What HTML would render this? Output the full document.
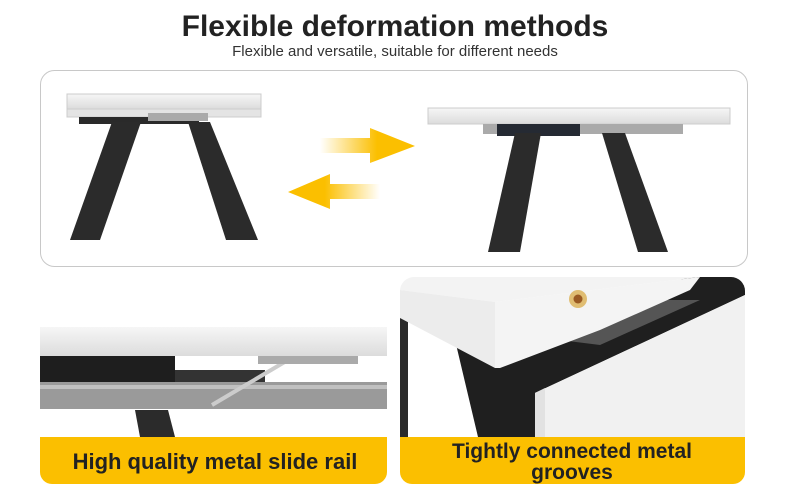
<!DOCTYPE html>
<html><head><meta charset="utf-8"><style>
body{margin:0;width:800px;height:495px;background:#fff;overflow:hidden;font-family:"Liberation Sans",sans-serif}
</style></head><body>
<svg width="800" height="495" viewBox="0 0 800 495" xmlns="http://www.w3.org/2000/svg">
<defs>
<linearGradient id="ar" x1="0" x2="1"><stop offset="0" stop-color="#fbbf00" stop-opacity="0"/><stop offset="0.6" stop-color="#fbbf00"/></linearGradient>
<linearGradient id="al" x1="1" x2="0"><stop offset="0" stop-color="#fbbf00" stop-opacity="0"/><stop offset="0.6" stop-color="#fbbf00"/></linearGradient>
<linearGradient id="mar" x1="0" y1="0" x2="0" y2="1"><stop offset="0" stop-color="#f6f6f6"/><stop offset="1" stop-color="#dcdcdc"/></linearGradient>
</defs>
<text x="395" y="36" text-anchor="middle" font-size="30" font-weight="bold" fill="#222">Flexible deformation methods</text>
<text x="395" y="56" text-anchor="middle" font-size="15" fill="#333">Flexible and versatile, suitable for different needs</text>
<rect x="40.5" y="70.5" width="707" height="196" rx="14" fill="#fff" stroke="#c8c8c8"/>
<!-- left table -->
<rect x="67" y="94" width="194" height="15" fill="url(#mar)" stroke="#ccc"/>
<rect x="67" y="109" width="194" height="8" fill="#e4e4e4" stroke="#ccc"/>
<rect x="79" y="117" width="120" height="7" fill="#2a2a2a"/>
<rect x="148" y="113" width="60" height="8" fill="#aaa"/>
<polygon points="112,122 141,122 100,240 70,240" fill="#2b2b2b"/>
<polygon points="188,122 210,122 258,240 226,240" fill="#2b2b2b"/>
<!-- arrows -->
<polygon points="320,138 370,138 370,128 415,146 370,163 370,153 320,153" fill="url(#ar)"/>
<polygon points="380,184 330,184 330,174 288,192 330,209 330,199 380,199" fill="url(#al)"/>
<!-- right table -->
<rect x="428" y="108" width="302" height="16" fill="url(#mar)" stroke="#ccc"/>
<rect x="483" y="124" width="200" height="10" fill="#aaa"/>
<rect x="497" y="124" width="83" height="12" fill="#252a33"/>
<polygon points="515,133 541,133 520,252 488,252" fill="#2b2b2b"/>
<polygon points="602,133 625,133 668,252 638,252" fill="#2b2b2b"/>
<!-- bottom left panel -->
<rect x="40" y="277" width="347" height="207" rx="14" fill="#fff"/>
<rect x="40" y="327" width="347" height="29" fill="url(#mar)"/>
<rect x="40" y="356" width="135" height="30" fill="#1e1e1e"/>
<rect x="175" y="370" width="90" height="16" fill="#333"/>
<rect x="40" y="382" width="347" height="27" fill="#9a9a9a"/>
<rect x="40" y="385" width="347" height="4" fill="#c0c0c0"/>
<line x1="212" y1="405" x2="288" y2="360" stroke="#ccc" stroke-width="4"/>
<rect x="258" y="356" width="100" height="8" fill="#aaa"/>
<polygon points="135,410 168,410 175,437 140,437" fill="#2b2b2b"/>
<rect x="40" y="437" width="347" height="47" rx="12" fill="#fbbf00"/>
<rect x="40" y="437" width="347" height="12" fill="#fbbf00"/>
<text x="215" y="469" text-anchor="middle" font-size="22" font-weight="bold" fill="#222">High quality metal slide rail</text>
<!-- bottom right panel -->
<clipPath id="cr"><rect x="400" y="277" width="345" height="207" rx="14"/></clipPath>
<g clip-path="url(#cr)">
<rect x="400" y="277" width="345" height="207" fill="#fff"/>
<polygon points="455,340 690,277 745,277 745,295 535,393 535,437 478,437" fill="#1f1f1f"/>
<polygon points="560,340 660,300 700,300 600,345" fill="#555"/>
<polygon points="400,318 408,318 408,437 400,437" fill="#2a2a2a"/>
<polygon points="535,393 745,295 745,437 535,437" fill="#f1f1f1"/>
<polygon points="535,393 545,388 545,437 535,437" fill="#e2e2e2"/>
<polygon points="400,277 700,277 495,302 400,290" fill="#f3f3f3"/>
<polygon points="400,290 495,302 495,368 400,318" fill="#ececec"/>
<polygon points="495,302 700,277 690,290 600,330 500,368 495,368" fill="#f4f4f4"/>
<circle cx="578" cy="299" r="9" fill="#e0bd72"/><circle cx="578" cy="299" r="4.5" fill="#9a5a22"/>
</g>
<rect x="400" y="437" width="345" height="47" rx="12" fill="#fbbf00"/>
<rect x="400" y="437" width="345" height="12" fill="#fbbf00"/>
<text x="572" y="458" text-anchor="middle" font-size="21" font-weight="bold" fill="#222">Tightly connected metal</text>
<text x="572" y="479" text-anchor="middle" font-size="21" font-weight="bold" fill="#222">grooves</text>
</svg>
</body></html>
